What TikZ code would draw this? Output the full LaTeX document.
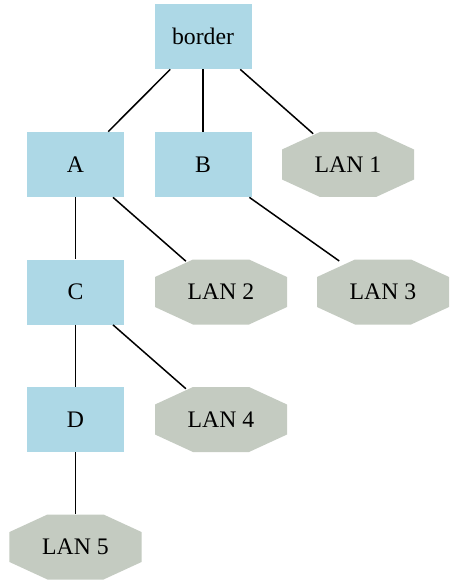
\documentclass[tikz,border=0pt]{standalone}
\usepackage{fontspec}
\setmainfont{Liberation Serif}
\definecolor{routerblue}{RGB}{173,216,230}
\definecolor{langray}{RGB}{196,203,193}
\begin{document}
\begin{tikzpicture}
\useasboundingbox (0,0) rectangle (8.98,-11.70);
\tikzstyle{every node}=[font=\fontsize{13.5}{16}\selectfont,inner sep=0pt]
\tikzstyle{router}=[rectangle,fill=routerblue,minimum width=1.94cm,minimum height=1.3cm]
\tikzstyle{lan}=[rectangle,fill=white,minimum width=2.64cm,minimum height=1.3cm,
  path picture={\fill[langray] ([xshift=0.76cm]path picture bounding box.north west)
    -- ([xshift=-0.76cm]path picture bounding box.north east)
    -- ([yshift=-0.35cm]path picture bounding box.north east)
    -- ([yshift=0.35cm]path picture bounding box.south east)
    -- ([xshift=-0.76cm]path picture bounding box.south east)
    -- ([xshift=0.76cm]path picture bounding box.south west)
    -- ([yshift=0.35cm]path picture bounding box.south west)
    -- ([yshift=-0.35cm]path picture bounding box.north west) -- cycle;}]
\tikzstyle{link}=[line width=0.85pt]
\tikzstyle{tolan}=[link,shorten >=-1.8pt]
%
\node[router](rborder) at (4.06,-0.73) {border};
%
\node[router](ra) at (1.51,-3.29) {A};
\node[router](rb) at (4.06,-3.29) {B};
\node[lan](lan1) at (6.96,-3.29) {LAN 1};
%
\node[router](rc) at (1.51,-5.84) {C};
\node[lan](lan2) at (4.42,-5.84) {LAN 2};
\node[lan](lan3) at (7.66,-5.84) {LAN 3};
%
\node[router](rd) at (1.51,-8.39) {D};
\node[lan](lan4) at (4.42,-8.39) {LAN 4};
%
\node[lan](lan5) at (1.51,-10.94) {LAN 5};
%
\draw[link] (rborder) -- (ra);
\draw[link] (rborder) -- (rb);
\draw[tolan] (rborder) -- (lan1);
\draw[link] (ra) -- (rc);
\draw[tolan] (ra) -- (lan2);
\draw[tolan] (rb) -- (lan3);
\draw[link] (rc) -- (rd);
\draw[tolan] (rc) -- (lan4);
\draw[link] (rd) -- (lan5);
\end{tikzpicture}
\end{document}
